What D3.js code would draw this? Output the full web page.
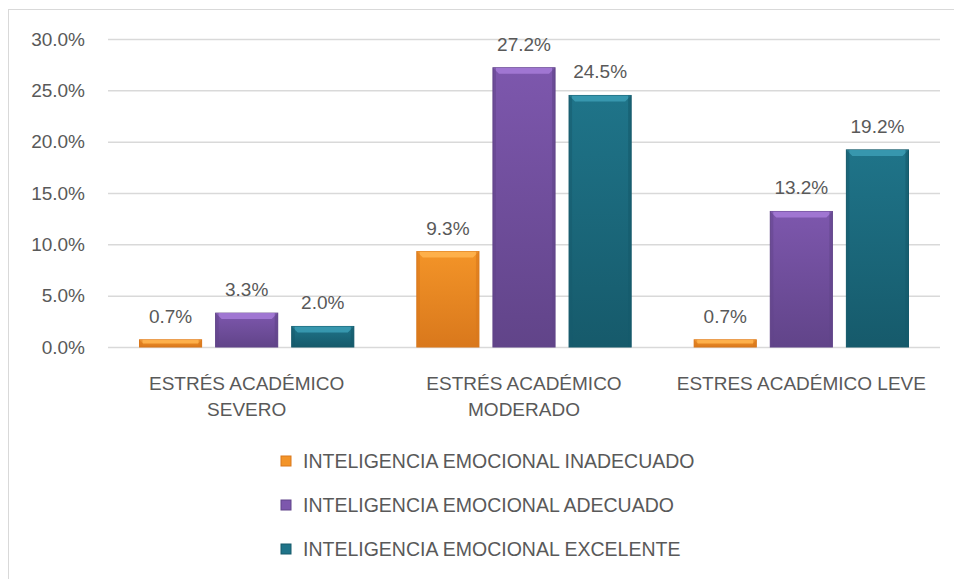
<!DOCTYPE html>
<html lang="en">
<head>
    <meta charset="UTF-8">
    <title>Estrés académico e inteligencia emocional</title>
    <script src="https://d3js.org/d3.v7.min.js"></script>
    <style>
        body { margin: 0; background: #fff; }
        svg { display: block; }
        text { font-family: "Liberation Sans", Arial, sans-serif; fill: #595959; }
    </style>
</head>
<body>
<svg id="chart"></svg>
<script>
    const categories = [
        ["ESTRÉS ACADÉMICO", "SEVERO"],
        ["ESTRÉS ACADÉMICO", "MODERADO"],
        ["ESTRES ACADÉMICO LEVE"]
    ];
    const seriesNames = [
        "INTELIGENCIA EMOCIONAL INADECUADO",
        "INTELIGENCIA EMOCIONAL ADECUADO",
        "INTELIGENCIA EMOCIONAL EXCELENTE"
    ];
    const inadecuado = [0.007, 0.093, 0.007];
    const adecuado = [0.033, 0.272, 0.132];
    const excelente = [0.020, 0.245, 0.192];
    const yTicks = [0, 0.05, 0.10, 0.15, 0.20, 0.25, 0.30];

    const seriesValues = [inadecuado, adecuado, excelente];
    const colors = [
        {light: "#ffb44f", mid: "#f39428", dark: "#d9781c"},
        {light: "#a47ad6", mid: "#7d57ad", dark: "#614489"},
        {light: "#3a9bb3", mid: "#1f7489", dark: "#165a6b"}
    ];

    const width = 954, height = 579;
    const fs = 19;
    const svg = d3.select("#chart").attr("width", width).attr("height", height);

    // chart frame
    svg.append("rect")
        .attr("x", 8.5).attr("y", 9.5)
        .attr("width", 960).attr("height", 600)
        .attr("fill", "none").attr("stroke", "#d9d9d9");

    const catKeys = categories.map(function(c, i) { return i; });

    const x = d3.scaleBand().domain(catKeys).range([108, 940]);
    const xSub = d3.scaleBand().domain(d3.range(seriesNames.length))
        .range([0, x.bandwidth()]).paddingInner(0.184).paddingOuter(0.414);
    const y = d3.scaleLinear().domain([0, 0.30]).range([347, 39]);

    // gradients
    const defs = svg.append("defs");
    colors.forEach(function(c, i) {
        const g = defs.append("linearGradient").attr("id", "grad" + i)
            .attr("x1", 0).attr("y1", 0).attr("x2", 0).attr("y2", 1);
        g.append("stop").attr("offset", "0%").attr("stop-color", c.mid);
        g.append("stop").attr("offset", "100%").attr("stop-color", c.dark);
    });

    // gridlines + y labels
    const yAxis = svg.append("g").attr("transform", "translate(108,0)")
        .call(d3.axisLeft(y).tickValues(yTicks).tickSize(-832).tickFormat(d3.format(".1%")).tickPadding(23));
    yAxis.select(".domain").remove();
    yAxis.selectAll(".tick line").attr("stroke", "#d9d9d9").attr("stroke-width", 1.5);
    yAxis.selectAll(".tick text").attr("font-size", fs).style("fill", "#595959")
        .attr("font-family", "Liberation Sans, Arial, sans-serif");

    // bars
    const groups = svg.selectAll("g.series")
        .data(seriesValues)
        .enter().append("g").attr("class", "series");

    groups.each(function(vals, si) {
        const g = d3.select(this);
        const c = colors[si];
        const bw = xSub.bandwidth();
        vals.forEach(function(v, ci) {
            const bx = x(ci) + xSub(si);
            const by = y(v);
            const bh = y(0) - y(v);
            g.append("rect").attr("x", bx).attr("y", by).attr("width", bw).attr("height", bh)
                .attr("fill", "url(#grad" + si + ")")
                .attr("stroke", c.dark).attr("stroke-width", 1);
            const bev = Math.min(6, bh / 2);
            g.append("path")
                .attr("d", "M" + bx + "," + by + "L" + (bx + bw) + "," + by +
                    "L" + (bx + bw - bev) + "," + (by + bev) + "L" + (bx + bev) + "," + (by + bev) + "Z")
                .attr("fill", c.light).attr("opacity", 0.9);
            g.append("rect").attr("x", bx).attr("y", by).attr("width", 3).attr("height", bh)
                .attr("fill", c.dark).attr("opacity", 0.5);
            g.append("rect").attr("x", bx + bw - 3).attr("y", by).attr("width", 3).attr("height", bh)
                .attr("fill", c.dark).attr("opacity", 0.6);
            g.append("text")
                .attr("x", bx + bw / 2).attr("y", by - 17)
                .attr("text-anchor", "middle").attr("font-size", fs)
                .text(d3.format(".1%")(v));
        });
    });

    // category labels
    const catLabels = svg.selectAll("text.cat")
        .data(categories)
        .enter().append("text").attr("class", "cat")
        .attr("text-anchor", "middle").attr("font-size", fs);
    catLabels.each(function(lines, i) {
        const t = d3.select(this);
        lines.forEach(function(line, li) {
            t.append("tspan").attr("x", x(i) + x.bandwidth() / 2)
                .attr("y", 390 + li * 26).text(line);
        });
    });

    // legend
    const legend = svg.selectAll("g.legend")
        .data(seriesNames)
        .enter().append("g").attr("class", "legend")
        .attr("transform", function(d, i) { return "translate(281," + (461 + i * 44) + ")"; });
    legend.append("rect").attr("x", 0).attr("y", -5).attr("width", 10).attr("height", 10)
        .attr("fill", function(d, i) { return colors[i].mid; })
        .attr("stroke", function(d, i) { return colors[i].dark; });
    legend.append("text").attr("x", 22).attr("y", 7).attr("font-size", 19.5)
        .text(function(d) { return d; });
</script>
</body>
</html>
